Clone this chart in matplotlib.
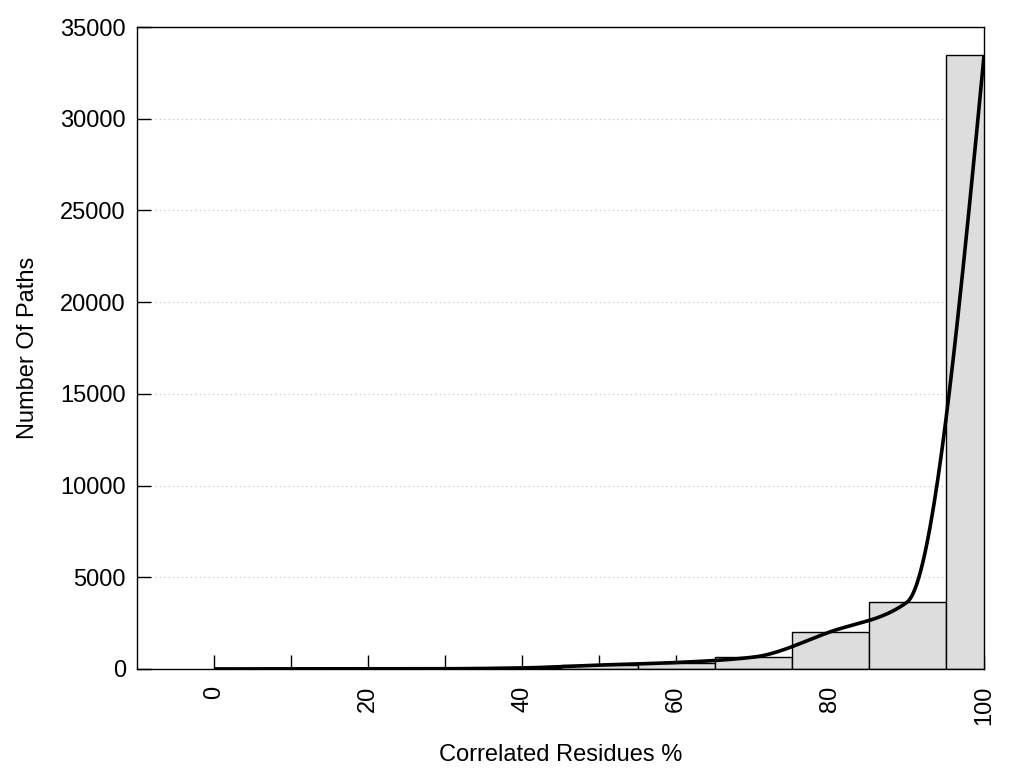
import numpy as np
import matplotlib
matplotlib.use("Agg")
from matplotlib import pyplot as plt

# bin centres (width 10) and counts per bin
centres = [0, 10, 20, 30, 40, 50, 60, 70, 80, 90, 100]
counts = [0, 2, 2, 10, 55, 210, 350, 640, 2020, 3640, 33470]
bin_width = 10

x_ticks = [0, 20, 40, 60, 80, 100]
y_ticks = [0, 5000, 10000, 15000, 20000, 25000, 30000, 35000]


# monotone cubic through the bin values (like gnuplot smooth mcsplines)
def mono_spline(x, y, n=400):
  x = np.asarray(x, float)
  y = np.asarray(y, float)
  h = np.diff(x)
  d = np.diff(y) / h
  m = np.zeros_like(y)
  m[0] = d[0]
  m[-1] = ((2 * h[-1] + h[-2]) * d[-1] - h[-1] * d[-2]) / (h[-1] + h[-2])
  for i in range(1, len(x) - 1):
    if d[i - 1] * d[i] > 0:
      m[i] = 2.0 / (1.0 / d[i - 1] + 1.0 / d[i])
  xs = np.linspace(x[0], x[-1], n)
  k = np.clip(np.searchsorted(x, xs) - 1, 0, len(x) - 2)
  t = (xs - x[k]) / h[k]
  h00 = 2 * t**3 - 3 * t**2 + 1
  h10 = t**3 - 2 * t**2 + t
  h01 = -2 * t**3 + 3 * t**2
  h11 = t**3 - t**2
  ys = h00 * y[k] + h10 * h[k] * m[k] + h01 * y[k + 1] + h11 * h[k] * m[k + 1]
  return xs, ys


plt.rcParams['font.family'] = ['Liberation Sans', 'DejaVu Sans']

fig = plt.figure(figsize=(10.24, 7.68), dpi=100)
ax = fig.add_axes([0.1338, 0.129, 0.8272, 0.8358])

# empty bins draw nothing
bx = [c for c, n in zip(centres, counts) if n > 0]
bh = [n for n in counts if n > 0]
ax.bar(bx, bh, width=bin_width, color='#dddddd', edgecolor='black',
       linewidth=1.0, zorder=2)

xs, ys = mono_spline(centres, counts)
ax.plot(xs, ys, color='black', linewidth=2.6, zorder=3, solid_capstyle='butt')

ax.set_xlim(-10, 100)
ax.set_ylim(0, 35000)
ax.set_xticks(x_ticks)
ax.set_xticks(np.arange(0, 101, 10), minor=True)
ax.set_yticks(y_ticks)
ax.tick_params(axis='x', which='both', direction='in', length=10, width=1,
               labelsize=17, labelrotation=90, pad=12)
ax.tick_params(axis='y', direction='in', length=10, width=1, labelsize=17, pad=8)

ax.yaxis.grid(True, color='#bbbbbb', linestyle=(0, (1, 3)), linewidth=0.8, zorder=0)
ax.set_axisbelow(True)
for s in ax.spines.values():
  s.set_linewidth(1.0)

ax.set_xlabel('Correlated Residues %', fontsize=17, labelpad=14)
ax.set_ylabel('Number Of Paths', fontsize=17, labelpad=15)

fig.savefig('out.png', dpi=100)
